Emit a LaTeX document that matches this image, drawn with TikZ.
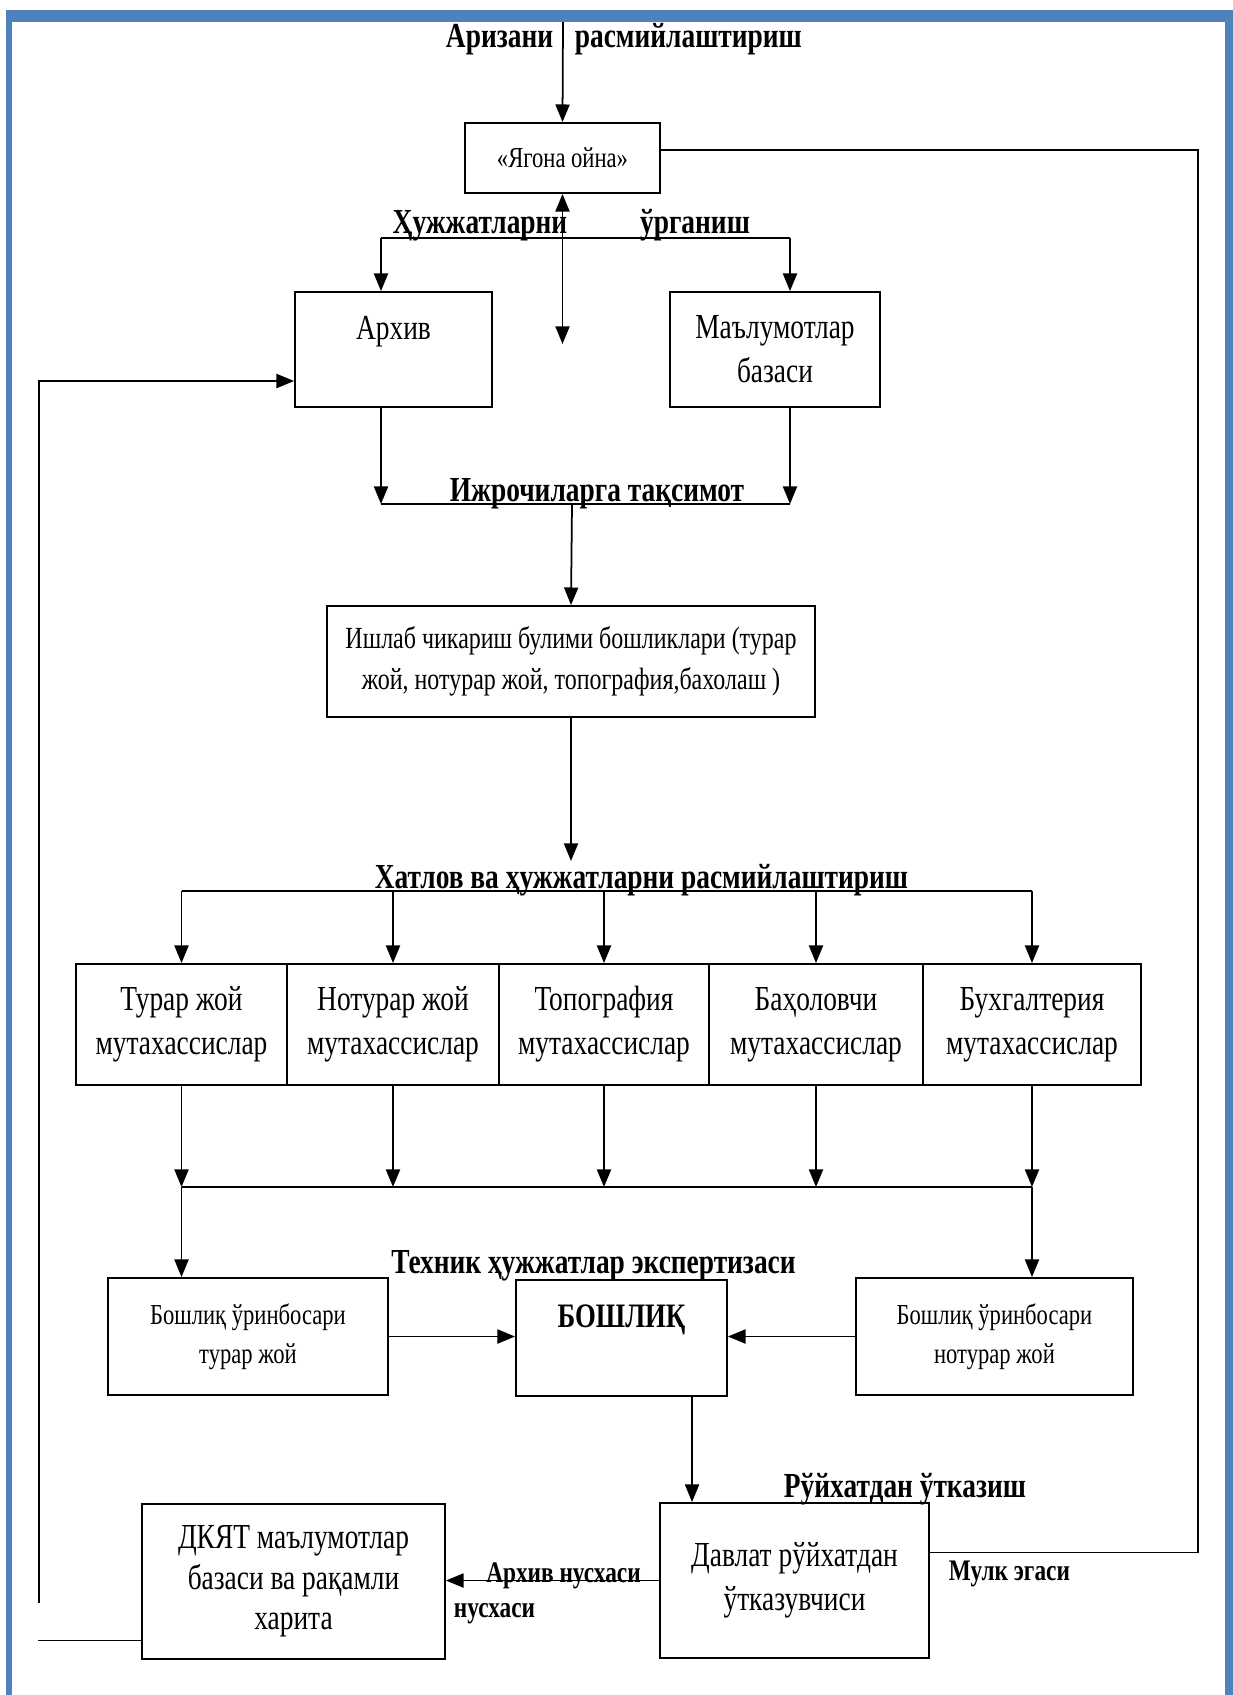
\documentclass[tikz,border=0pt]{standalone}
\usepackage{fontspec}
\setmainfont{Liberation Serif}[FakeStretch=0.78]
\usetikzlibrary{arrows.meta,calc}
\definecolor{cornice}{RGB}{79,129,189}

\begin{document}
\begin{tikzpicture}[x=0.02cm,y=-0.02cm,line width=1pt,>={Triangle[length=10pt,width=8pt]},
        casella/.style={draw,line width=1.1pt,align=center,inner sep=2pt,
            font=\fontsize{20}{25}\selectfont},
        casellina/.style={casella,font=\fontsize{16.5}{22}\selectfont},
        scritta/.style={inner sep=0pt,font=\fontsize{20}{24}\bfseries},
        scrittina/.style={inner sep=0pt,font=\fontsize{17}{20}\bfseries}]
        \useasboundingbox (0,0) rectangle (1233,1695);
        % cornice
        \fill[cornice] (6,10) rectangle (1233,22);
        \fill[cornice] (6,10) rectangle (12,1695);
        \fill[cornice] (1225,10) rectangle (1233,1695);
        % caselle in alto
        \node[casellina,minimum width=3.9cm,minimum height=1.4cm] (yagona) at (562.5,158) {«Ягона ойна»};
        \node[casella,minimum width=3.94cm,minimum height=2.3cm] (arxiv) at (393.5,349.5) {Архив\\ \mbox{}};
        \node[casella,minimum width=4.2cm,minimum height=2.3cm] (malumot) at (775,349.5) {Маълумотлар\\ базаси};
        \node[casella,minimum width=9.76cm,minimum height=2.22cm,font=\fontsize{17.5}{23}\selectfont] (ishlab) at (571,661.5)
            {Ишлаб чикариш булими бошликлари (турар\\ жой, нотурар жой, топография,бахолаш )};
        % mutaxassislar
        \node[casella,minimum width=4.22cm,minimum height=2.42cm] (turar) at (181.5,1024.5) {Турар жой\\ мутахассислар};
        \node[casella,minimum width=4.24cm,minimum height=2.42cm] (noturar) at (393,1024.5) {Нотурар жой\\ мутахассислар};
        \node[casella,minimum width=4.2cm,minimum height=2.42cm] (topo) at (604,1024.5) {Топография\\ мутахассислар};
        \node[casella,minimum width=4.28cm,minimum height=2.42cm] (baho) at (816,1024.5) {Баҳоловчи\\ мутахассислар};
        \node[casella,minimum width=4.36cm,minimum height=2.42cm] (buxg) at (1032,1024.5) {Бухгалтерия\\ мутахассислар};
        % boshliq e vice
        \node[casellina,minimum width=5.6cm,minimum height=2.34cm] (vturar) at (248,1336.5) {Бошлиқ ўринбосари\\ турар жой};
        \node[casella,minimum width=4.22cm,minimum height=2.32cm,font=\fontsize{19.5}{25}\bfseries] (boshliq) at (621.5,1338) {БОШЛИҚ\\ \mbox{}};
        \node[casellina,minimum width=5.54cm,minimum height=2.34cm] (vnoturar) at (994.5,1336.5) {Бошлиқ ўринбосари\\ нотурар жой};
        % caselle in basso
        \node[casella,minimum width=5.38cm,minimum height=3.1cm] (davlat) at (794.5,1580.5) {Давлат рўйхатдан\\ ўтказувчиси};
        \node[casella,minimum width=6.06cm,minimum height=3.1cm,font=\fontsize{20}{23}\selectfont] (dkyat) at (293.5,1581.5)
            {ДКЯТ маълумотлар\\ базаси ва рақамли\\ харита};
        % scritte
        \node[scritta,anchor=base east] (ariza) at (554,47) {Аризани};
        \node[scritta,anchor=base west] (rasmiy) at (574,47) {расмийлаштириш};
        \node[scritta,anchor=base] (hujjat) at (480,233) {Ҳужжатларни};
        \node[scritta,anchor=base] (urganish) at (695,233) {ўрганиш};
        \node[scritta,anchor=base] (taqsimot) at (597,501) {Ижрочиларга тақсимот};
        \node[scritta,anchor=base] (hatlovtxt) at (641.5,888) {Хатлов ва ҳужжатларни расмийлаштириш};
        \node[scritta,anchor=base] (ekspert) at (593.5,1273) {Техник ҳужжатлар экспертизаси};
        \node[scritta,anchor=base] (ruyxat) at (905,1497) {Рўйхатдан ўтказиш};
        \node[scrittina,anchor=base] (nusxa) at (563.5,1582) {Архив нусхаси};
        \node[scrittina,anchor=base west] (nusxab) at (453,1617) {нусхаси};
        \node[scrittina,anchor=base west] (mulk) at (948,1580) {Мулк эгаси};
        % frecce in alto
        \coordinate (ingresso) at (563,22);
        \draw[->] (ingresso) -- (yagona.north);
        \draw[<->] (yagona.south) -- ++(0,150);
        \coordinate (ramoL) at (381,238);
        \coordinate (ramoR) at (790,238);
        \draw (ramoL) -- (ramoR);
        \draw[->] (ramoL) -- (ramoL |- arxiv.north);
        \draw[->] (ramoR) -- (ramoR |- malumot.north);
        \coordinate (raccolta) at (572,504);
        \draw[->] (ramoL |- arxiv.south) -- (ramoL |- raccolta);
        \draw[->] (ramoR |- malumot.south) -- (ramoR |- raccolta);
        \draw (ramoL |- raccolta) -- (ramoR |- raccolta);
        \draw[->] (raccolta) -- (ishlab.north);
        % smistamento ai mutaxassislar
        \draw[->] (ishlab.south) -- ++(0,143);
        \coordinate (hatlov) at (573,891);
        \draw (turar.north |- hatlov) -- (buxg.north |- hatlov);
        \foreach \n in {turar,noturar,topo,baho,buxg}
            \draw[->] (\n.north |- hatlov) -- (\n.north);
        \coordinate (somma) at (600,1187);
        \foreach \n in {turar,noturar,topo,baho,buxg}
            \draw[->] (\n.south) -- (\n.south |- somma);
        \draw (turar.south |- somma) -- (buxg.south |- somma);
        \draw[->] (turar.south |- somma) -- (turar.south |- vturar.north);
        \draw[->] (buxg.south |- somma) -- (buxg.south |- vnoturar.north);
        \draw[->] (vturar.east) -- (vturar.east -| boshliq.west);
        \draw[->] (vnoturar.west) -- (vnoturar.west -| boshliq.east);
        % registrazione
        \coordinate (davtip) at ($(davlat.north west)+(33,0)$);
        \draw[->] (davtip |- boshliq.south) -- (davtip);
        \draw[->] (davlat.west) -- (davlat.west -| dkyat.east);
        % mulk egasi
        \coordinate (destra) at (1198,150);
        \draw (yagona.east |- destra) -- (destra) |- ($(davlat.east)+(0,-28)$);
        % ritorno in archivio
        \coordinate (sinistra) at (39,1603);
        \draw ($(dkyat.west)+(0,59)$) -- ++(-103,0);
        \draw[->] (sinistra) |- ($(arxiv.west)+(0,31.5)$);
\end{tikzpicture}
\end{document}
